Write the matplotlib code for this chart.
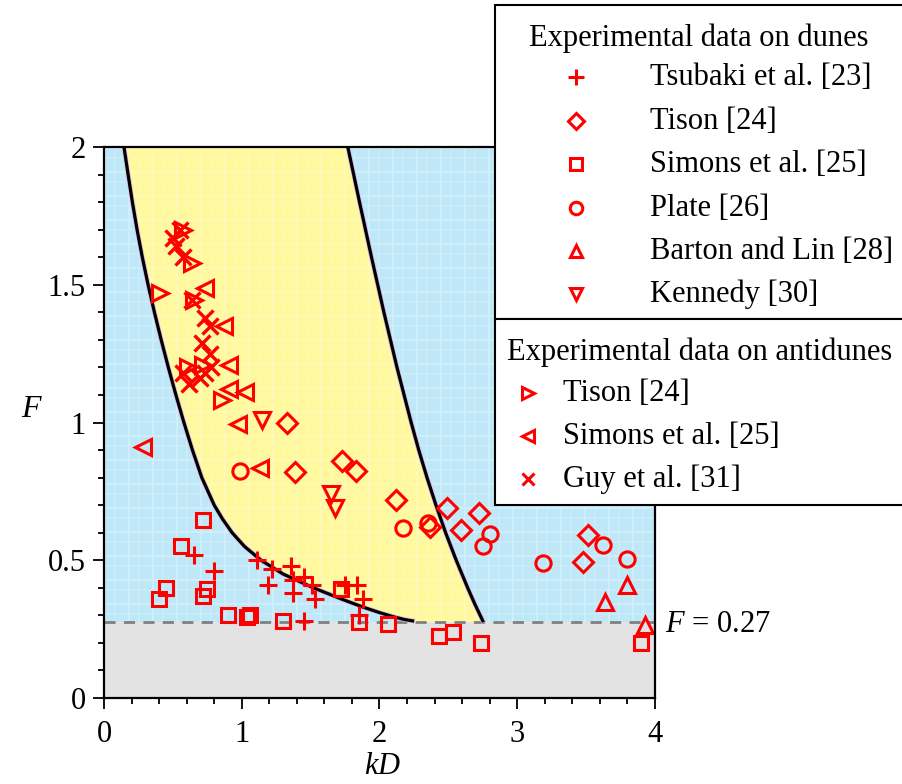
import numpy as np
import matplotlib
matplotlib.use('Agg')
import matplotlib.pyplot as plt
from matplotlib.patches import Rectangle, Polygon

plt.rcParams['font.family'] = ['Liberation Serif', 'DejaVu Serif']
plt.rcParams['mathtext.fontset'] = 'custom'
plt.rcParams['mathtext.rm'] = 'Liberation Serif'
plt.rcParams['mathtext.it'] = 'Liberation Serif:italic'

# ---------------- data ----------------
# boundary curves
left_bound_F = [2.00, 1.90, 1.80, 1.70, 1.60, 1.50, 1.40, 1.30, 1.20, 1.10, 1.00, 0.90, 0.80,
                0.75, 0.70, 0.65, 0.60, 0.55, 0.50, 0.45, 0.40, 0.36, 0.33, 0.31, 0.295, 0.285, 0.28]
left_bound_x = [0.145, 0.175, 0.206, 0.24, 0.278, 0.32, 0.366, 0.415, 0.467, 0.522, 0.58, 0.642, 0.71,
                0.755, 0.80, 0.86, 0.93, 1.02, 1.14, 1.30, 1.52, 1.72, 1.88, 2.00, 2.10, 2.18, 2.24]
right_bound_F = [2.00, 1.80, 1.60, 1.40, 1.20, 1.00, 0.90, 0.80, 0.70, 0.60, 0.50, 0.40, 0.34, 0.28]
right_bound_x = [1.77, 1.855, 1.942, 2.032, 2.127, 2.23, 2.285, 2.345, 2.41, 2.48, 2.557, 2.64, 2.693, 2.75]
F_crit = 0.275

# dunes
tsubaki_x = [0.65, 0.80, 1.11, 1.22, 1.19, 1.36, 1.37, 1.37, 1.45, 1.51, 1.53, 1.45, 1.75, 1.84, 1.88, 1.85]
tsubaki_F = [0.52, 0.46, 0.50, 0.47, 0.41, 0.48, 0.43, 0.38, 0.44, 0.41, 0.36, 0.28, 0.41, 0.41, 0.36, 0.30]
tison_d_x = [1.33, 1.39, 1.73, 1.83, 2.12, 2.49, 2.37, 2.59, 2.72, 3.51, 3.48]
tison_d_F = [1.00, 0.82, 0.86, 0.825, 0.72, 0.69, 0.62, 0.61, 0.67, 0.59, 0.495]
simons_d_x = [0.72, 0.56, 0.45, 0.40, 0.75, 0.72, 0.90, 1.04, 1.06, 1.30, 1.85, 2.06, 1.72, 2.43, 2.53, 2.74, 3.90]
simons_d_F = [0.646, 0.55, 0.40, 0.36, 0.395, 0.37, 0.30, 0.295, 0.30, 0.28, 0.276, 0.27, 0.395, 0.225, 0.24, 0.20, 0.20]
plate_x = [0.99, 2.17, 2.35, 2.80, 2.75, 3.19, 3.62, 3.80]
plate_F = [0.825, 0.617, 0.635, 0.595, 0.55, 0.49, 0.555, 0.505]
barton_x = [3.80, 3.64, 3.93]
barton_F = [0.41, 0.35, 0.265]
kennedy_x = [1.15, 1.65, 1.68]
kennedy_F = [1.01, 0.74, 0.69]
# antidunes
tison_a_x = [0.57, 0.64, 0.41, 0.65, 0.61, 0.72, 0.86]
tison_a_F = [1.70, 1.58, 1.47, 1.445, 1.20, 1.21, 1.08]
simons_a_x = [0.73, 0.87, 0.91, 0.91, 1.02, 0.97, 0.28, 1.13]
simons_a_F = [1.49, 1.35, 1.21, 1.12, 1.11, 0.995, 0.91, 0.835]
guy_x = [0.50, 0.55, 0.52, 0.57, 0.64, 0.73, 0.77, 0.71, 0.77, 0.57, 0.62, 0.73, 0.78, 0.70]
guy_F = [1.67, 1.70, 1.64, 1.60, 1.445, 1.38, 1.35, 1.29, 1.25, 1.18, 1.14, 1.18, 1.20, 1.16]

dune_labels = ['Tsubaki et al. [23]', 'Tison [24]', 'Simons et al. [25]', 'Plate [26]',
               'Barton and Lin [28]', 'Kennedy [30]']
antidune_labels = ['Tison [24]', 'Simons et al. [25]', 'Guy et al. [31]']

# ---------------- figure ----------------
W, H = 902, 784
fig = plt.figure(figsize=(W / 100, H / 100), dpi=100)
L, R, B, T = 104, 655, 698, 147
ax = fig.add_axes([L / W, 1 - B / H, (R - L) / W, (B - T) / H])
ax.set_xlim(0, 4)
ax.set_ylim(0, 2)

blue = '#bee8f8'
yellow = '#fff89c'
gray = '#e3e3e3'
red = '#ff0000'
ax.set_facecolor(blue)

# yellow region
poly_pts = list(zip(left_bound_x, left_bound_F)) + [(left_bound_x[-1], F_crit), (right_bound_x[-1], F_crit)] \
    + list(zip(right_bound_x[::-1], right_bound_F[::-1]))
ax.add_patch(Polygon(poly_pts, closed=True, facecolor=yellow, edgecolor='none', zorder=1))
# gray region
ax.add_patch(Rectangle((0, 0), 4, F_crit, facecolor=gray, edgecolor='none', zorder=1))

# plaid texture (white, semi transparent)
n = 551
idx = np.arange(n)
def band(k):
    m = k % 24
    return np.where(m < 2, 0.45, np.where((m >= 10) & (m < 12), 0.25, np.where(m == 17, 0.15, 0.0)))
br = band(idx)
bc = band(idx)
alpha = np.maximum(br[:, None], bc[None, :]) * 0.6
Frow = 2 - (idx + 0.5) / n * 2
alpha[Frow < F_crit, :] = 0
tex = np.ones((n, n, 4))
tex[..., 3] = alpha
ax.imshow(tex, extent=[0, 4, 0, 2], aspect='auto', interpolation='nearest', zorder=1.5)

# critical line
ax.plot([0, 4], [F_crit, F_crit], color='#808080', lw=2, ls=(0, (4, 3)), zorder=2)

# boundary curves (thin lavender edge beneath, then black)
ax.plot(left_bound_x, left_bound_F, color='#d9b8e6', lw=3.4, zorder=2.5, solid_joinstyle='round')
ax.plot(right_bound_x, right_bound_F, color='#d9b8e6', lw=3.4, zorder=2.5, solid_joinstyle='round')
ax.plot(left_bound_x, left_bound_F, color='black', lw=2.3, zorder=3, solid_joinstyle='round')
ax.plot(right_bound_x, right_bound_F, color='black', lw=2.3, zorder=3, solid_joinstyle='round')

mk = dict(ls='none', mfc='none', mec=red, color=red, zorder=5, clip_on=False)
ax.plot(tsubaki_x, tsubaki_F, marker='+', ms=13, mew=2.2, **mk)
ax.plot(tison_d_x, tison_d_F, marker='D', ms=10, mew=2.2, **mk)
ax.plot(simons_d_x, simons_d_F, marker='s', ms=10, mew=2.2, **mk)
ax.plot(plate_x, plate_F, marker='o', ms=11, mew=2.2, **mk)
ax.plot(barton_x, barton_F, marker='^', ms=11, mew=2.2, **mk)
ax.plot(kennedy_x, kennedy_F, marker='v', ms=11, mew=2.2, **mk)
ax.plot(tison_a_x, tison_a_F, marker='>', ms=11, mew=2.2, **mk)
ax.plot(simons_a_x, simons_a_F, marker='<', ms=11, mew=2.2, **mk)
ax.plot(guy_x, guy_F, marker='x', ms=12, mew=2.4, **mk)

# axes styling
for s in ax.spines.values():
    s.set_linewidth(1.6)
    s.set_zorder(6)
ax.set_xticks([0, 1, 2, 3, 4])
ax.set_xticks(np.arange(0, 4.01, 0.2), minor=True)
ax.set_yticks([0, 0.5, 1, 1.5, 2])
ax.set_yticklabels(['0', '0.5', '1', '1.5', '2'])
ax.set_yticks(np.arange(0, 2.01, 0.1), minor=True)
ax.tick_params(which='both', direction='out', top=False, right=False, width=1.3, labelsize=22)
ax.tick_params(which='major', length=8)
ax.tick_params(which='minor', length=4.5)
ax.tick_params(axis='x', which='major', pad=8)
ax.tick_params(axis='y', which='major', pad=5)

ax.text(-0.13, 0.523, '$F$', transform=ax.transAxes, fontsize=23, ha='center', va='center')
ax.text(0.506, -0.125, '$kD$', transform=ax.transAxes, fontsize=22, ha='center', va='center')

# ---------------- overlay for legends ----------------
ov = fig.add_axes([0, 0, 1, 1])
ov.set_xlim(0, W)
ov.set_ylim(H, 0)
ov.axis('off')
ov.set_zorder(10)

ov.add_patch(Rectangle((495, 5), 420, 314, facecolor='white', edgecolor='black', lw=1.5))
ov.add_patch(Rectangle((495, 319), 420, 186, facecolor='white', edgecolor='black', lw=1.5))

fs = 22
ov.text(699, 38, 'Experimental data on dunes', fontsize=fs, ha='center', va='center')
dune_markers = ['+', 'D', 's', 'o', '^', 'v']
dune_ms = [11, 8.5, 8, 9, 9, 9]
rows1 = [77, 121, 164, 208, 251, 294]
for lab, m, ms, y in zip(dune_labels, dune_markers, dune_ms, rows1):
    ov.plot([576], [y], marker=m, ms=ms, mew=2.2, mfc='none', mec=red, ls='none')
    ov.text(650, y, lab, fontsize=fs, ha='left', va='center')

ov.text(700, 352, 'Experimental data on antidunes', fontsize=fs, ha='center', va='center')
anti_markers = ['>', '<', 'x']
anti_ms = [8, 8, 9]
rows2 = [393, 436, 479]
for lab, m, ms, y in zip(antidune_labels, anti_markers, anti_ms, rows2):
    ov.plot([528], [y], marker=m, ms=ms, mew=2.2, mfc='none', mec=red, ls='none')
    ov.text(563, y, lab, fontsize=fs, ha='left', va='center')

ov.text(665, 625, '$F$ = 0.27', fontsize=22, ha='left', va='center')

fig.savefig('out.png', dpi=100)
